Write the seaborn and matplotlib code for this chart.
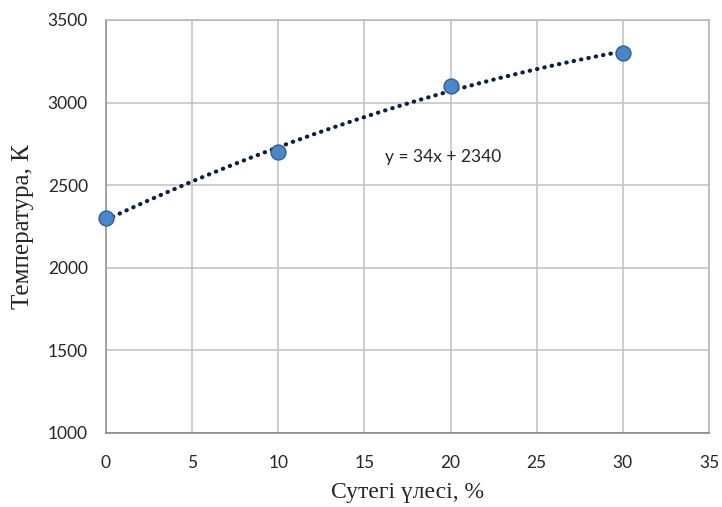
import matplotlib
matplotlib.use("Agg")
import matplotlib.pyplot as plt
import seaborn as sns
import numpy as np

# данные
hydrogen = [0, 10, 20, 30]
temperature = [2300, 2700, 3100, 3300]
x_ticks = [0, 5, 10, 15, 20, 25, 30, 35]
y_ticks = [1000, 1500, 2000, 2500, 3000, 3500]
equation = "y = 34x + 2340"

sns.set_style("whitegrid")
plt.rcParams['font.family'] = ['Lato', 'DejaVu Sans']

fig = plt.figure(figsize=(7.22, 5.07), dpi=100)
ax = fig.add_axes([0.1468, 0.146, 0.8352, 0.8146])

# полиномиальная линия тренда (2-я степень)
coef = np.polyfit(hydrogen, temperature, 2)
xs = np.linspace(min(hydrogen), max(hydrogen), 200)
ax.plot(xs, np.polyval(coef, xs), color="#0b1f45", lw=3.0,
        linestyle=(0, (0.1, 1.7)), dash_capstyle="round", zorder=3)

sns.scatterplot(x=hydrogen, y=temperature, ax=ax, s=115, color="#4a86c8",
                edgecolor="#2f5f95", linewidth=1.0, zorder=4, clip_on=False)

ax.text(16.2, 2670, equation, fontsize=12.5, va="center", ha="left",
        family=['Lato', 'DejaVu Sans'])

ax.set_xlim(0, 35)
ax.set_ylim(1000, 3500)
ax.set_xticks(x_ticks)
ax.set_yticks(y_ticks)
ax.tick_params(labelsize=12.5, length=0)
ax.tick_params(axis="x", pad=16)
ax.tick_params(axis="y", pad=13)
ax.grid(True, color="#c0c0c0", lw=1.1)
for name, sp in ax.spines.items():
    sp.set_visible(True)
    sp.set_color("#b5b5b5")
    sp.set_linewidth(1.1)
ax.spines['bottom'].set_color("#7f7f7f")
ax.spines['left'].set_color("#8f8f8f")

ax.set_xlabel("Сутегі үлесі, %", fontsize=17, family="Liberation Serif", labelpad=8)
ax.set_ylabel("Температура, К", fontsize=18, family="Liberation Serif", labelpad=10)

fig.savefig("out.png", dpi=100)
